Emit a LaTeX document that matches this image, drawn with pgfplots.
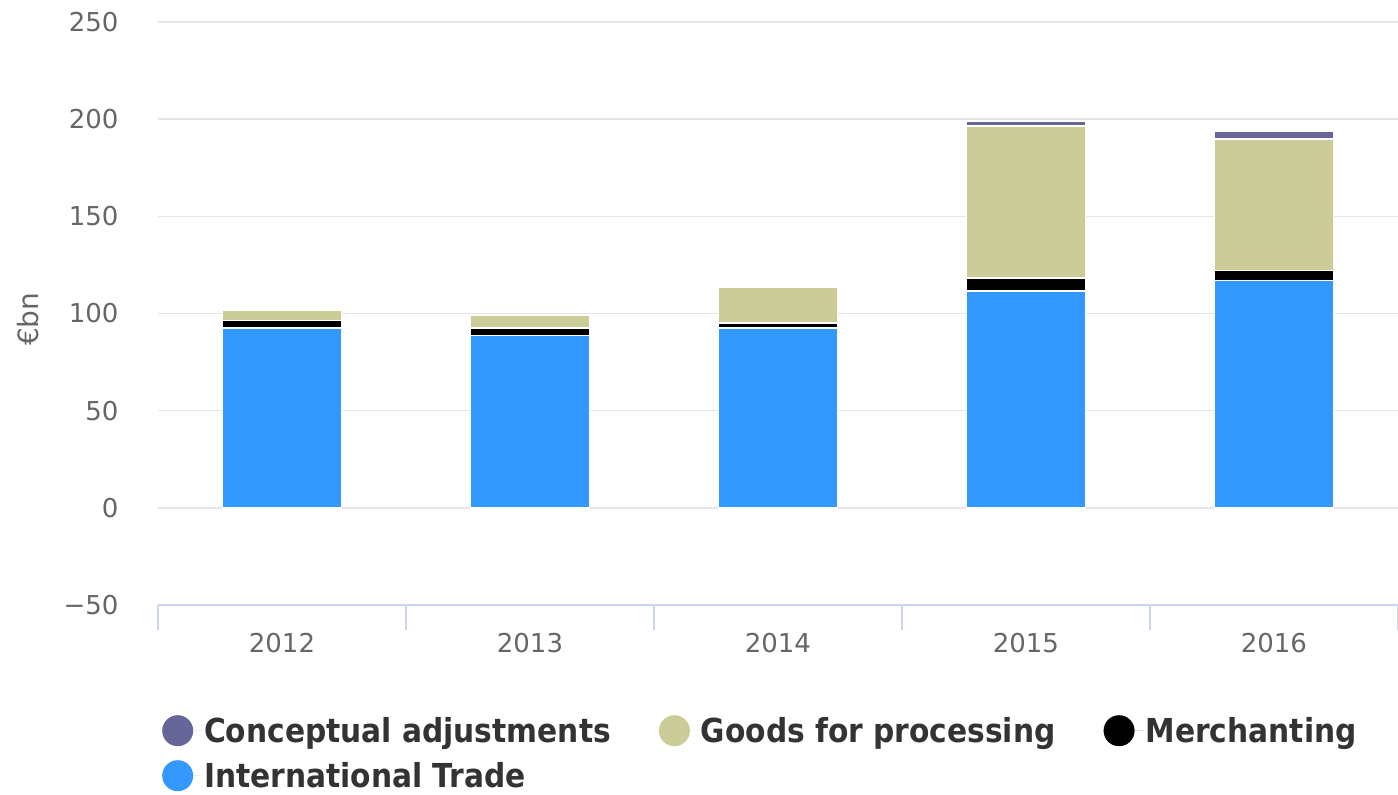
\documentclass[border=0pt]{standalone}
\usepackage{fontspec}
\setmainfont{DejaVu Sans}
\newfontfamily\legfont{DejaVu Sans Condensed}[BoldFont={DejaVu Sans Condensed Bold}]
\usepackage{pgfplots}
\pgfplotsset{compat=1.18}
\definecolor{ctrade}{HTML}{3399FF}
\definecolor{cgoods}{HTML}{CCCC99}
\definecolor{cconc}{HTML}{666699}
\definecolor{cmerch}{HTML}{000000}
\definecolor{gridc}{HTML}{E6E6E6}
\definecolor{axisc}{HTML}{CCD6EB}
\definecolor{tickc}{HTML}{666666}
\definecolor{legtext}{HTML}{333333}
\begin{document}
\begin{tikzpicture}
\begin{axis}[
  at={(0,0)}, anchor=south west,
  scale only axis, width=1240pt, height=583pt,
  ybar stacked, bar width=0.48,
  xmin=-0.5, xmax=4.5, ymin=-50, ymax=250,
  xtick={0,1,2,3,4}, xticklabels={2012,2013,2014,2015,2016},
  minor xtick={-0.5,0.5,1.5,2.5,3.5,4.5},
  ytick={-50,0,50,100,150,200,250},
  yticklabels={−50,0,50,100,150,200,250},
  ymajorgrids, grid style={gridc, line width=1.5pt},
  axis line style={draw=none},
  major tick length=0pt, minor tick length=25pt, tick align=outside, tick pos=left,
  minor tick style={axisc, line width=1.5pt},
  tick label style={text=tickc, font=\fontsize{26}{30}\selectfont},
  xticklabel style={yshift=-25pt},
  yticklabel style={xshift=-36pt},
  ylabel={€bn},
  ylabel style={at={(axis description cs:-0.105,0.49)}, anchor=center, text=tickc, font=\fontsize{28}{32}\selectfont},
  reverse legend,
  legend columns=3,
  legend cell align=left,
  legend image code/.code={\fill[#1,draw=none] (15.5pt,0pt) circle[radius=15.5pt]; \path[draw=none] (0pt,0pt) -- (40pt,0pt);},
  legend style={at={(0,0)}, anchor=north west, xshift=1pt, yshift=-108pt,
    draw=none, fill=none, text=legtext,
    font=\legfont\bfseries\fontsize{33}{38}\selectfont,
    /tikz/every even column/.append style={column sep=46pt},
    row sep=14pt},
]
\addplot[fill=ctrade, draw=white, line width=1.5pt] coordinates {(0,92.5) (1,88.7) (2,92.6) (3,111.6) (4,117.0)};
\addlegendentry{International Trade}
\addplot[fill=cmerch, draw=white, line width=1.5pt] coordinates {(0,3.8) (1,3.9) (2,2.6) (3,6.7) (4,5.2)};
\addlegendentry{Merchanting}
\addplot[fill=cgoods, draw=white, line width=1.5pt] coordinates {(0,5.3) (1,6.4) (2,18.2) (3,78.2) (4,67.6)};
\addlegendentry{Goods for processing}
\addplot[fill=cconc, draw=white, line width=1.5pt] coordinates {(0,0) (1,0) (2,0) (3,2.3) (4,3.9)};
\addlegendentry{Conceptual adjustments}
\draw[axisc, line width=2pt] (rel axis cs:0,0) -- (rel axis cs:1,0);
\end{axis}
\pgfresetboundingbox
\path[use as bounding box] (-158pt,-190pt) rectangle (1240pt,605pt);
\end{tikzpicture}
\end{document}
